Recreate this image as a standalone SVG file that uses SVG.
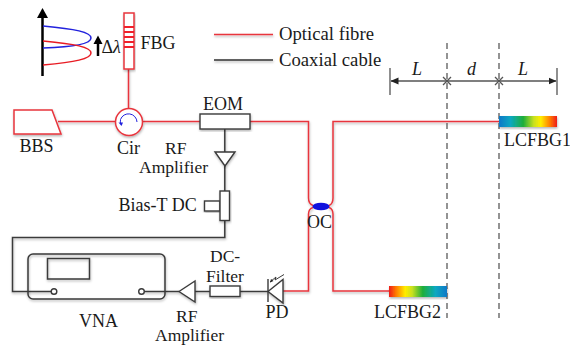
<svg xmlns="http://www.w3.org/2000/svg" width="570" height="345" viewBox="0 0 570 345">
<style>
text{font-family:"Liberation Serif","Times New Roman",serif;font-size:18px;fill:#1a1a1a}
.it{font-style:italic}
.s{font-size:17.5px}
.o{fill:none;stroke:#e8343c;stroke-width:1.5}
.c{fill:none;stroke:#3a3a3a;stroke-width:1.5}
.ow{fill:#fff;stroke:#e8343c;stroke-width:1.5}
.cw{fill:#fff;stroke:#3a3a3a;stroke-width:1.4}
.d{fill:none;stroke:#666;stroke-width:1.4;stroke-dasharray:6 4}
.dim{fill:none;stroke:#555;stroke-width:1.3}
</style>
<defs>
<filter id="sh" x="-20%" y="-20%" width="140%" height="140%"><feDropShadow dx="0.5" dy="1.5" stdDeviation="1.2" flood-color="#000" flood-opacity="0.3"/></filter>
<linearGradient id="g1" x1="0" x2="1" y1="0" y2="0">
<stop offset="0" stop-color="#0a78c8"/><stop offset=".2" stop-color="#0aa8c0"/><stop offset=".42" stop-color="#1fae3a"/><stop offset=".6" stop-color="#c8e020"/><stop offset=".72" stop-color="#ffee00"/><stop offset=".88" stop-color="#ff7a00"/><stop offset="1" stop-color="#ee1a1a"/>
</linearGradient>
<linearGradient id="g2" x1="1" x2="0" y1="0" y2="0">
<stop offset="0" stop-color="#0a78c8"/><stop offset=".2" stop-color="#0aa8c0"/><stop offset=".42" stop-color="#1fae3a"/><stop offset=".6" stop-color="#c8e020"/><stop offset=".72" stop-color="#ffee00"/><stop offset=".88" stop-color="#ff7a00"/><stop offset="1" stop-color="#ee1a1a"/>
</linearGradient>
<marker id="ah" viewBox="0 0 8 8" refX="7.5" refY="4" markerWidth="8" markerHeight="8" markerUnits="userSpaceOnUse" orient="auto-start-reverse"><path d="M0 0.5L8 4L0 7.5z" fill="#222"/></marker>
</defs>

<g id="connectors">
<g filter="url(#sh)">
<path class="o" d="M58 121.500H116"/>
<path class="o" d="M128.500 69V108"/>
<path class="o" d="M143 121.500H200"/>
<path class="o" d="M250 121.500H308.500V198Q308.500 204 313 205.500"/>
<path class="o" d="M499 121.500H333V198Q333 204 329 205.500"/>
<path class="o" d="M313 207.500Q308.500 209 308.500 214V291H283"/>
<path class="o" d="M329 207.500Q333 209 333 214V291H389"/>
<path class="c" d="M224.800 129V152"/>
<path class="c" d="M224.800 166V191"/>
<path class="c" d="M224.800 220V237.500H12.500V291.500H51"/>
<path class="c" d="M144 291.500H179"/>
<path class="c" d="M195 291.500H210"/>
<path class="c" d="M240 291.500H268"/>
</g>
</g>

<g id="legend">
<g filter="url(#sh)">
<path d="M214 34.500H273" stroke="#e8343c" stroke-width="1.300" fill="none"/>
<path d="M214 60H273" stroke="#333" stroke-width="1.300" fill="none"/>
</g>
<text x="279" y="40" style="font-size:18.7px">Optical fibre</text>
<text x="279" y="65.500" style="font-size:18.7px">Coaxial cable</text>
</g>

<g id="spectrum">
<path d="M42.500 76V14" stroke="#000" stroke-width="2.500" fill="none"/>
<path d="M37 18L42.500 8L48 18z" fill="#000"/>
<path d="M43 26C75 29 91 32 91 38C91 44 75 47 43 48" fill="none" stroke="#2222dd" stroke-width="1.500"/>
<path d="M43 41C75 44 91 47 91 53C91 59 75 62 43 65" fill="none" stroke="#e81c24" stroke-width="1.500"/>
<path d="M98 56V42" stroke="#000" stroke-width="2.500" fill="none"/>
<path d="M93.500 44L98 35.500L102.500 44z" fill="#000"/>
<text x="101.500" y="53">Δ<tspan class="it">λ</tspan></text>
</g>

<g id="fbg">
<rect class="ow" x="124" y="13" width="10" height="56" filter="url(#sh)"/>
<path d="M124 27H134M124 32H134M124 37H134M124 42H134M124 47H134" stroke="#f0202a" stroke-width="2" fill="none"/>
<text x="140.500" y="49">FBG</text>
</g>

<g id="bbs">
<path class="ow" d="M14 110H52L61 134H14z" filter="url(#sh)"/>
<text x="19.500" y="152">BBS</text>
</g>

<g id="cir">
<circle class="ow" cx="129" cy="122" r="13.500" filter="url(#sh)"/>
<path d="M137 122A8.500 8.500 0 0 0 120.500 119.500Q120 122 121 124" fill="none" stroke="#2222dd" stroke-width="1"/>
<path d="M118.500 122.500L123 122.500L121.500 126z" fill="#2222dd"/>
<text x="117" y="154">Cir</text>
</g>

<g id="eom">
<rect class="cw" x="200" y="114" width="50" height="15" filter="url(#sh)"/>
<text x="203" y="110">EOM</text>
</g>

<g id="amp1">
<path class="cw" d="M215 152H235L225 166z" filter="url(#sh)"/>
<text class="s" x="165" y="153.500">RF</text>
<text class="s" x="139" y="173">Amplifier</text>
</g>

<g id="biast">
<rect class="cw" x="204.500" y="201" width="15.500" height="10" filter="url(#sh)"/>
<rect class="cw" x="220" y="191" width="9.500" height="29.500" filter="url(#sh)"/>
<text x="118.500" y="211">Bias-T DC</text>
</g>

<g id="vna">
<rect x="28" y="254" width="137" height="45" rx="5" fill="none" stroke="#3a3a3a" stroke-width="1.500" filter="url(#sh)"/>
<rect x="47.500" y="258.500" width="42" height="20.500" fill="none" stroke="#3a3a3a" stroke-width="1.500" filter="url(#sh)"/>
<circle class="cw" cx="54" cy="291.500" r="2.800"/>
<circle class="cw" cx="141.500" cy="291.500" r="2.800"/>
<text x="79" y="327">VNA</text>
</g>

<g id="amp2">
<path class="cw" d="M179 291.500L195 281V302z" filter="url(#sh)"/>
<text class="s" x="176" y="322">RF</text>
<text class="s" x="155" y="341.200">Amplifier</text>
</g>

<g id="dcfilter">
<rect class="cw" x="210" y="286" width="30" height="10.500" filter="url(#sh)"/>
<text class="s" x="210" y="262">DC-</text>
<text class="s" x="206" y="281.500">Filter</text>
</g>

<g id="pd">
<path class="cw" d="M268 291.500L283 279.500V303z" filter="url(#sh)"/>
<path d="M268 279V302" stroke="#3a3a3a" stroke-width="1.400" fill="none"/>
<path d="M270 282L276 277L275 280L284 274.500" stroke="#3a3a3a" stroke-width="1" fill="none"/>
<path d="M270 282.500L271 279L273.500 281z" fill="#222"/>
<text x="265.500" y="318">PD</text>
</g>

<g id="oc">
<ellipse cx="321" cy="206.500" rx="8.500" ry="3.800" fill="#1111dd"/>
<text x="307" y="228">OC</text>
</g>

<g id="dimensions">
<path class="d" d="M447 43V318"/>
<path class="d" d="M499 43V318"/>
<path class="dim" d="M390 68V95M557 68V95" stroke-width="1.500"/>
<path class="dim" d="M391 81H556" marker-start="url(#ah)" marker-end="url(#ah)"/>
<path class="dim" d="M443 77L451 85M451 77L443 85M495 77L503 85M503 77L495 85"/>
<text class="it" x="412" y="75">L</text>
<text class="it" x="467" y="75">d</text>
<text class="it" x="518" y="75">L</text>
</g>

<g id="lcfbg1">
<rect x="499" y="116" width="58" height="11" fill="url(#g1)" filter="url(#sh)"/>
<text x="504" y="146">LCFBG1</text>
</g>

<g id="lcfbg2">
<rect x="389" y="286" width="58" height="11" fill="url(#g2)" filter="url(#sh)"/>
<text x="374" y="318">LCFBG2</text>
</g>
</svg>
